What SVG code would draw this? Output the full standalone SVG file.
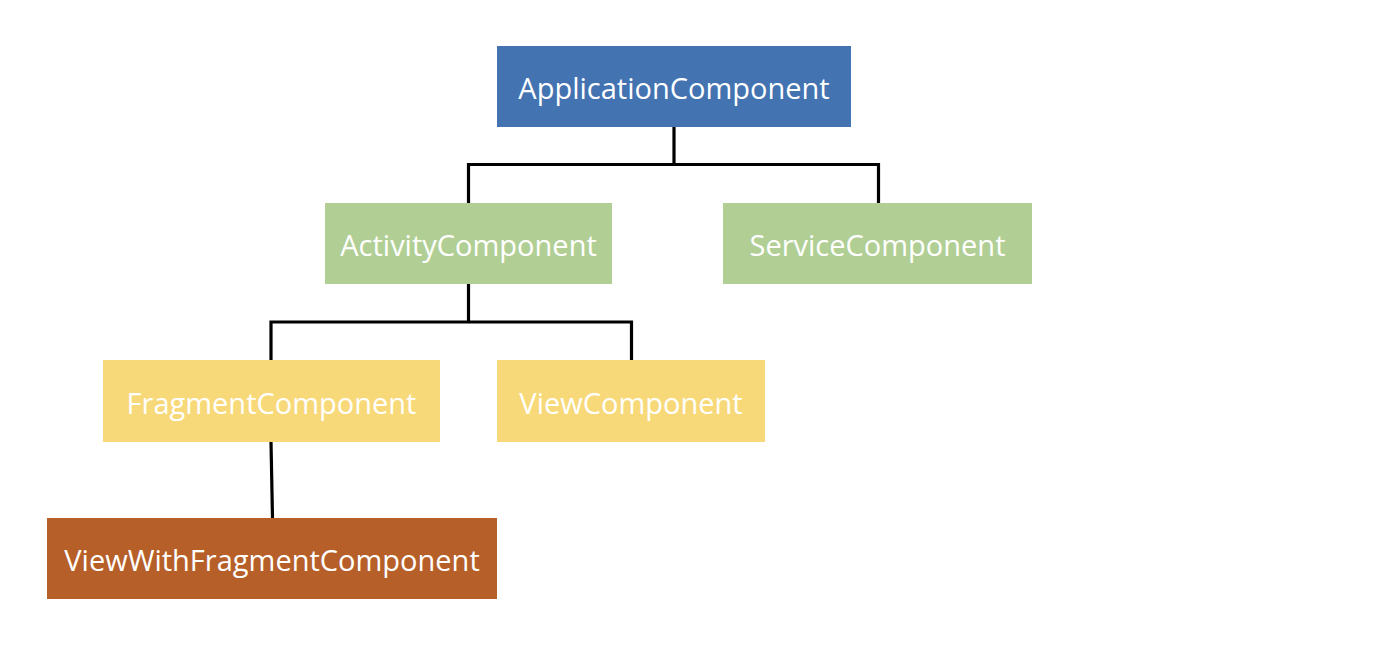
<svg xmlns="http://www.w3.org/2000/svg" width="1400" height="647" viewBox="0 0 1400 647">
<style>
.lbl{font-family:"Open Sans","Noto Sans",sans-serif;font-size:29px;fill:#ffffff;text-anchor:middle;dominant-baseline:central}
.conn{fill:none;stroke:#000000;stroke-width:3.2}
</style>
<rect width="1400" height="647" fill="#ffffff"/>
<g id="connectors">
<path class="conn" d="M674,127 V164.5 M468.5,164.5 H878.5 M468.5,163 V203 M878.5,163 V203"/>
<path class="conn" d="M468.5,284 V322 M271,322 H631.5 M271,320.5 V360 M631.5,320.5 V360"/>
<path class="conn" d="M271,442 L272.5,518"/>
</g>
<g id="app"><rect x="497" y="46" width="354" height="81" fill="#4373B1"/><text class="lbl" x="674" y="87">ApplicationComponent</text></g>
<g id="activity"><rect x="325" y="203" width="287" height="81" fill="#B1CF95"/><text class="lbl" x="468.5" y="244">ActivityComponent</text></g>
<g id="service"><rect x="723" y="203" width="309" height="81" fill="#B1CF95"/><text class="lbl" x="877.5" y="244">ServiceComponent</text></g>
<g id="fragment"><rect x="103" y="360" width="337" height="82" fill="#F8D979"/><text class="lbl" x="271.5" y="402">FragmentComponent</text></g>
<g id="view"><rect x="497" y="360" width="268" height="82" fill="#F8D979"/><text class="lbl" x="631" y="402">ViewComponent</text></g>
<g id="viewwithfragment"><rect x="47" y="518" width="450" height="81" fill="#B75F29"/><text class="lbl" x="272" y="559">ViewWithFragmentComponent</text></g>
</svg>
